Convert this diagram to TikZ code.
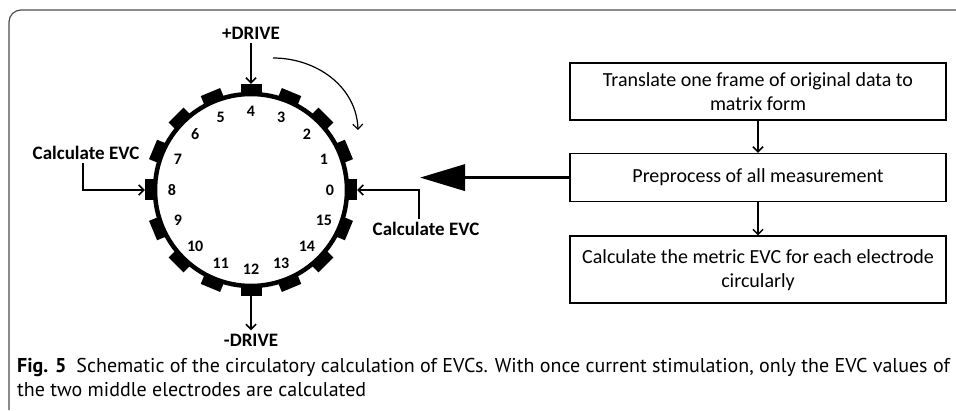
\documentclass[tikz,border=0pt]{standalone}
\usepackage{fontspec}
\setmainfont{Carlito}
\newfontfamily\capfont{PT Sans}
\usetikzlibrary{positioning, arrows.meta}

\begin{document}
\begin{tikzpicture}[x=1pt, y=1pt, node distance=32pt,
    >={Straight Barb[length=5pt, width=10pt]},
    electrode/.style={fill, minimum width=11pt, minimum height=21pt, inner sep=0pt, rotate=#1},
    num/.style={font=\fontsize{16}{16}\selectfont\bfseries},
    lbl/.style={font=\fontsize{19}{19}\selectfont\bfseries},
    flowbox/.style={draw, line width=1.6pt, minimum width=376pt,
        align=center, inner sep=4pt, font=\fontsize{20}{24}\selectfont},
    conn/.style={->, line width=1.5pt}]

    \useasboundingbox (0,0) rectangle (956,410);
    \draw[gray!60!black, line width=1.2pt]
        (9,0) -- (9,388) arc[start angle=180, end angle=90, radius=12] -- (956,400);

    % electrode ring
    \coordinate (c) at (251,220);
    \draw[line width=4.5pt] (c) circle[radius=96];
    \foreach \k in {0,...,15} {
        \node[electrode=\k*22.5] (e\k) at ([shift={(\k*22.5:100.5)}]c) {};
        \node[num] (n\k) at ([shift={(\k*22.5:79)}]c) {\k};
    }

    \node[lbl] (pdrive) at (251,377) {+DRIVE};
    \node[lbl] (mdrive) at (251,70)  {-DRIVE};
    \node[lbl] (lcalc)  at (86,257)  {Calculate EVC};
    \node[lbl] (rcalc)  at (426,181) {Calculate EVC};
    \coordinate (rs) at (273,352);
    \coordinate (re) at (358,280);

    \draw[conn] (pdrive) -- (e4);
    \draw[conn] (e12) -- (mdrive);
    \draw[conn] ([xshift=-3pt]lcalc.south) |- (e8);
    \draw[conn] ([xshift=-7pt]rcalc.north) |- (e0);
    \draw[->, line width=1.2pt] (rs) to[out=0, in=92] (re);

    % flow chart
    \node[flowbox, minimum height=57pt] (trans) at (758,318.5)
        {Translate one frame of original data to\\ matrix form};
    \node[flowbox, minimum height=48pt] (prep) [below=of trans]
        {Preprocess of all measurement};
    \node[flowbox, minimum height=67pt] (metric) [below=33pt of prep]
        {Calculate the metric EVC for each electrode\\ circularly};
    \coordinate (tip) at (420,232);
    \draw[conn] (trans) -- (prep);
    \draw[conn] (prep) -- (metric);
    \draw[line width=3.5pt, -{Triangle[length=45pt, width=26pt]}] (prep.west) -- (prep.west -| tip);

    % caption
    \node[anchor=base west, inner sep=0pt, font=\capfont\fontsize{20}{20}\selectfont] (cap1) at (17,38)
        {\textbf{Fig. 5}\hspace{0.5em}Schematic of the circulatory calculation of EVCs. With once current stimulation, only the EVC values of};
    \node[anchor=base west, inner sep=0pt, font=\capfont\fontsize{20}{20}\selectfont] (cap2) at (17,14)
        {the two middle electrodes are calculated};
\end{tikzpicture}
\end{document}
